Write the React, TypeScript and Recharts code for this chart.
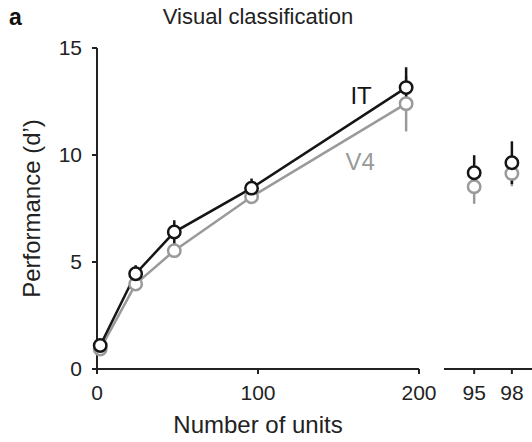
import {
  ErrorBar,
  Line,
  LineChart,
  ReferenceDot,
  XAxis,
  YAxis,
} from "recharts";

// number of units on the main axis
const units = [2, 24, 48, 96, 192];
const itPerf = [1.1, 4.45, 6.4, 8.45, 13.15];
const itErr = [0.2, 0.4, 0.55, 0.45, 0.95];
const v4Perf = [0.93, 3.97, 5.53, 8.05, 12.4];
const v4Err = [0.15, 0.3, 0.3, 0.3, 1.3];

// right-hand panel
const levels = [95, 98];
const itLevel = [9.17, 9.64];
const itLevelErr = [0.82, 1.0];
const v4Level = [8.52, 9.14];
const v4LevelErr = [0.8, 0.6];

const unitTicks = [0, 100, 200];
const levelTicks = [95, 98];
const perfTicks = [0, 5, 10, 15];

const FONT = "'Liberation Sans', Arial, Helvetica, sans-serif";
const BLACK = "#151515";
const GREY = "#9a9a9a";
const AXIS = "#222";

const mainData = units.map((u, i) => ({
  units: u,
  it: itPerf[i],
  itErr: itErr[i],
  v4: v4Perf[i],
  v4Err: v4Err[i],
}));

const levelData = levels.map((l, i) => ({
  level: l,
  it: itLevel[i],
  itErr: itLevelErr[i],
  v4: v4Level[i],
  v4Err: v4LevelErr[i],
}));

const tickStyle = { fill: AXIS, fontSize: 21 };
const axisLine = { stroke: AXIS, strokeWidth: 2 };
const dotStyle = (c: string) => ({ r: 6.2, fill: "#fff", stroke: c, strokeWidth: 2.5 });

export default function App() {
  return (
    <div
      style={{
        position: "absolute",
        left: 0,
        top: 0,
        width: 532,
        height: 442,
        overflow: "hidden",
        background: "#fff",
        fontFamily: FONT,
      }}
    >
      <div
        style={{
          position: "absolute",
          left: 9,
          top: 5.5,
          fontSize: 23,
          lineHeight: "23px",
          fontWeight: 700,
          color: "#111",
        }}
      >
        a
      </div>
      <div
        style={{
          position: "absolute",
          left: 138,
          top: 6.4,
          width: 240,
          textAlign: "center",
          fontSize: 22,
          lineHeight: "22px",
          color: "#222",
        }}
      >
        Visual classification
      </div>

      <div style={{ position: "absolute", left: 0, top: 0 }}>
        <LineChart
          width={440}
          height={442}
          data={mainData}
          margin={{ top: 48, right: 21, bottom: 33, left: 0 }}
        >
          <XAxis
            dataKey="units"
            type="number"
            domain={[0, 200]}
            ticks={unitTicks}
            tick={tickStyle}
            tickSize={5}
            tickMargin={11}
            axisLine={axisLine}
            tickLine={axisLine}
            height={40}
            label={{
              value: "Number of units",
              position: "bottom",
              offset: 7,
              fill: AXIS,
              fontSize: 24,
            }}
          />
          <YAxis
            type="number"
            domain={[0, 15]}
            ticks={perfTicks}
            tick={tickStyle}
            tickSize={5}
            tickMargin={10}
            axisLine={axisLine}
            tickLine={axisLine}
            width={97}
            label={{
              value: "Performance (d\u2019)",
              angle: -90,
              position: "insideLeft",
              offset: 31.5,
              fill: AXIS,
              fontSize: 24,
              style: { textAnchor: "middle" },
            }}
          />
          <Line
            type="linear"
            dataKey="v4"
            stroke={GREY}
            strokeWidth={2.5}
            dot={dotStyle(GREY)}
            activeDot={false}
            isAnimationActive={false}
          >
            <ErrorBar dataKey="v4Err" direction="y" width={0} stroke={GREY} strokeWidth={2.5} isAnimationActive={false} />
          </Line>
          <Line
            type="linear"
            dataKey="it"
            stroke={BLACK}
            strokeWidth={2.5}
            dot={dotStyle(BLACK)}
            activeDot={false}
            isAnimationActive={false}
          >
            <ErrorBar dataKey="itErr" direction="y" width={0} stroke={BLACK} strokeWidth={2.5} isAnimationActive={false} />
          </Line>
          <ReferenceDot
            x={164}
            y={12.78}
            r={0}
            fill="none"
            stroke="none"
            label={{ value: "IT", position: "center", fill: BLACK, fontSize: 24 }}
          />
          <ReferenceDot
            x={163.4}
            y={9.7}
            r={0}
            fill="none"
            stroke="none"
            label={{ value: "V4", position: "center", fill: GREY, fontSize: 24 }}
          />
        </LineChart>
      </div>

      <div style={{ position: "absolute", left: 440, top: 0 }}>
        <LineChart
          width={92}
          height={442}
          data={levelData}
          margin={{ top: 48, right: 0, bottom: 33, left: 4 }}
        >
          <XAxis
            dataKey="level"
            type="number"
            domain={[92.6, 99.6]}
            ticks={levelTicks}
            tick={tickStyle}
            tickSize={5}
            tickMargin={11}
            axisLine={axisLine}
            tickLine={axisLine}
            height={40}
            allowDataOverflow
          />
          <YAxis type="number" domain={[0, 15]} hide />
          <Line
            type="linear"
            dataKey="v4"
            stroke="none"
            dot={dotStyle(GREY)}
            activeDot={false}
            isAnimationActive={false}
          >
            <ErrorBar dataKey="v4Err" direction="y" width={0} stroke={GREY} strokeWidth={2.5} isAnimationActive={false} />
          </Line>
          <Line
            type="linear"
            dataKey="it"
            stroke="none"
            dot={dotStyle(BLACK)}
            activeDot={false}
            isAnimationActive={false}
          >
            <ErrorBar dataKey="itErr" direction="y" width={0} stroke={BLACK} strokeWidth={2.5} isAnimationActive={false} />
          </Line>
        </LineChart>
      </div>
    </div>
  );
}
